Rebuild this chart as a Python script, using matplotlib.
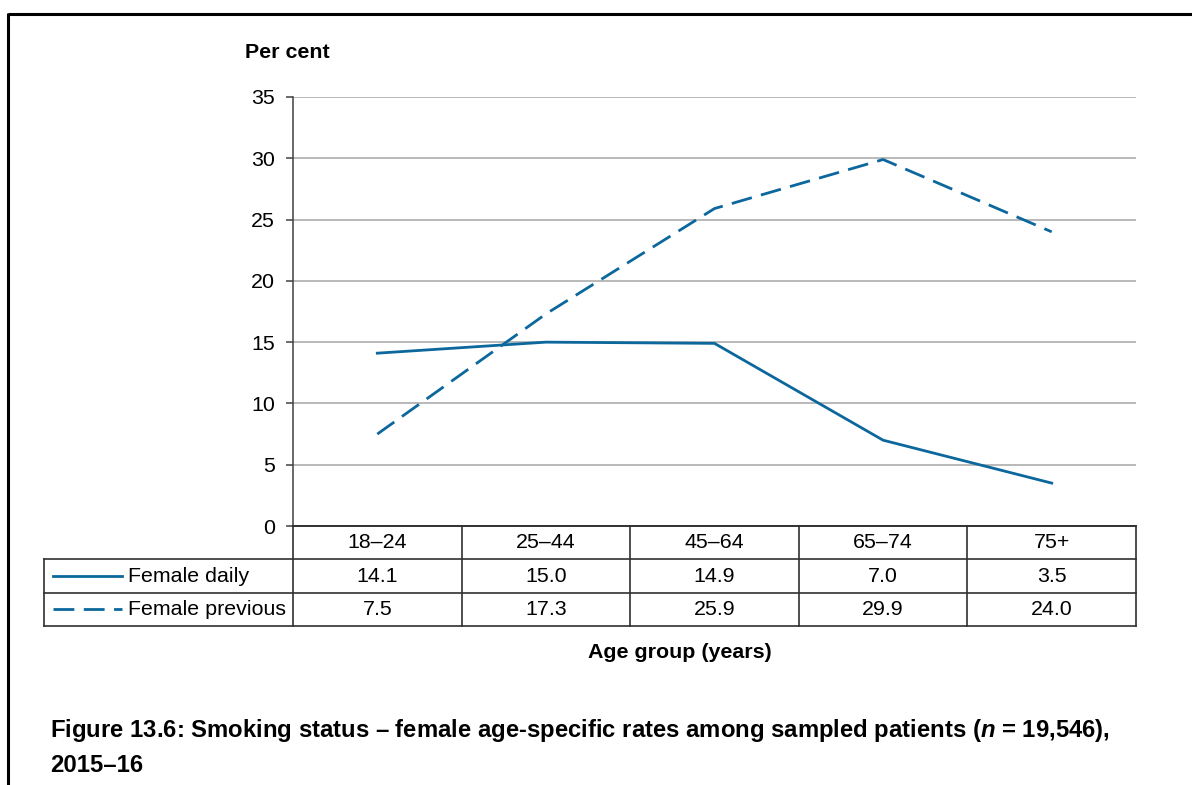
import matplotlib.pyplot as plt
from matplotlib.lines import Line2D

plt.rcParams['font.family'] = ['Liberation Sans', 'DejaVu Sans']
plt.rcParams['mathtext.fontset'] = 'custom'
plt.rcParams['mathtext.it'] = 'Liberation Sans:italic:bold'
plt.rcParams['mathtext.rm'] = 'Liberation Sans:bold'

# Data
AGE_GROUPS = ["18–24", "25–44", "45–64", "65–74", "75+"]
FEMALE_DAILY = [14.1, 15.0, 14.9, 7.0, 3.5]
FEMALE_PREVIOUS = [7.5, 17.3, 25.9, 29.9, 24.0]
SERIES_NAMES = ["Female daily", "Female previous"]
Y_TICKS = [0, 5, 10, 15, 20, 25, 30, 35]

BLUE = '#0b679c'
GRID = '#a6a6a6'
FS = 15.4
CAP_FS = 17.2
W, H = 1192, 785
LW = 2.0
DASH = (0, (7.5, 3.4))

fig = plt.figure(figsize=(W / 100, H / 100), dpi=100)


def px_rect(x0, y0, x1, y1):
    # pixel box (top-left origin) -> figure fraction rect
    return [x0 / W, 1 - y1 / H, (x1 - x0) / W, (y1 - y0) / H]


# outer frame (top and left only)
frame = fig.add_axes([0, 0, 1, 1])
frame.set_axis_off()
frame.set_xlim(0, W)
frame.set_ylim(H, 0)
frame.plot([8, W], [14, 14], color='black', lw=2.2, solid_capstyle='butt')
frame.plot([8, 8], [13, H], color='black', lw=2.2, solid_capstyle='butt')

# main chart
ax = fig.add_axes(px_rect(293, 97, 1136, 526))
xs = [i + 0.5 for i in range(len(AGE_GROUPS))]
ax.plot(xs, FEMALE_DAILY, color=BLUE, lw=LW, zorder=3)
ax.plot(xs, FEMALE_PREVIOUS, color=BLUE, lw=LW, linestyle=DASH, zorder=3)
ax.set_xlim(0, len(AGE_GROUPS))
ax.set_ylim(0, 35)
ax.set_yticks(Y_TICKS)
ax.set_yticklabels([str(t) for t in Y_TICKS], fontsize=FS)
ax.set_xticks([])
for t in Y_TICKS[1:]:
    ax.axhline(t, color=GRID, lw=1.1, zorder=1)
for s in ['top', 'right']:
    ax.spines[s].set_visible(False)
ax.spines['left'].set_color('#404040')
ax.spines['left'].set_linewidth(1.1)
ax.spines['bottom'].set_color('#202020')
ax.spines['bottom'].set_linewidth(1.3)
ax.tick_params(axis='y', length=5, width=1.1, color='#404040', pad=8)
fig.text(245 / W, 1 - 52 / H, "Per cent", fontsize=FS, fontweight='bold',
         ha='left', va='center')

# data table under the chart
tab = fig.add_axes(px_rect(44, 526, 1136, 626))
tab.set_axis_off()
n = len(AGE_GROUPS)
ppu = (1136 - 293) / n
left = -(293 - 44) / ppu
tab.set_xlim(left, n)
tab.set_ylim(3, 0)
lc = '#303030'
for r in [1, 2, 3]:
    tab.plot([left, n], [r, r], color=lc, lw=1.2, clip_on=False)
tab.plot([left, left], [1, 3], color=lc, lw=1.2, clip_on=False)
for i in range(n + 1):
    tab.plot([i, i], [0, 3], color=lc, lw=1.2, clip_on=False)

for i, g in enumerate(AGE_GROUPS):
    tab.text(i + 0.5, 0.5, g, fontsize=FS, ha='center', va='center')
    tab.text(i + 0.5, 1.5, f"{FEMALE_DAILY[i]:.1f}", fontsize=FS,
             ha='center', va='center')
    tab.text(i + 0.5, 2.5, f"{FEMALE_PREVIOUS[i]:.1f}", fontsize=FS,
             ha='center', va='center')

# legend keys inside the table
kx0 = left + (53 - 44) / ppu
kx1 = left + (122 - 44) / ppu
tx = left + (128 - 44) / ppu
tab.add_line(Line2D([kx0, kx1], [1.5, 1.5], color=BLUE, lw=LW))
tab.add_line(Line2D([kx0, kx1], [2.5, 2.5], color=BLUE, lw=LW, linestyle=DASH))
tab.text(tx, 1.5, SERIES_NAMES[0], fontsize=FS, ha='left', va='center')
tab.text(tx, 2.5, SERIES_NAMES[1], fontsize=FS, ha='left', va='center')

fig.text(680 / W, 1 - 652 / H, "Age group (years)", fontsize=FS,
         fontweight='bold', ha='center', va='center')

# caption
fig.text(50 / W, 1 - 731 / H,
         "Figure 13.6: Smoking status – female age-specific rates among sampled patients "
         "($n$ = 19,546),",
         fontsize=CAP_FS, fontweight='bold', ha='left', va='center')
fig.text(50 / W, 1 - 765 / H, "2015–16", fontsize=CAP_FS, fontweight='bold',
         ha='left', va='center')

fig.savefig("out.png", dpi=100)
